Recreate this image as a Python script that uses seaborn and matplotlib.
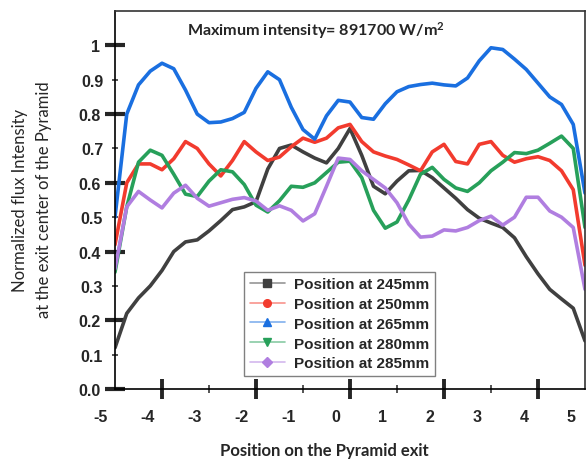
import numpy as np
import pandas as pd
import matplotlib
matplotlib.use("Agg")
import matplotlib.pyplot as plt
import seaborn as sns
from matplotlib.lines import Line2D

# ---------------- data ----------------
x_pos = [-5.0, -4.75, -4.5, -4.25, -4.0, -3.75, -3.5, -3.25, -3.0, -2.75,
         -2.5, -2.25, -2.0, -1.75, -1.5, -1.25, -1.0, -0.75, -0.5, -0.25,
         0.0, 0.25, 0.5, 0.75, 1.0, 1.25, 1.5, 1.75, 2.0, 2.25,
         2.5, 2.75, 3.0, 3.25, 3.5, 3.75, 4.0, 4.25, 4.5, 4.75, 5.0]

y_245 = [0.12, 0.22, 0.265, 0.30, 0.345, 0.40, 0.428, 0.434, 0.46, 0.49,
         0.522, 0.53, 0.545, 0.64, 0.70, 0.71, 0.69, 0.672, 0.658, 0.70,
         0.758, 0.68, 0.59, 0.568, 0.605, 0.635, 0.636, 0.615, 0.585, 0.555,
         0.522, 0.497, 0.483, 0.47, 0.44, 0.385, 0.335, 0.29, 0.262, 0.235, 0.14]

y_250 = [0.42, 0.60, 0.655, 0.655, 0.638, 0.67, 0.72, 0.70, 0.655, 0.62,
         0.665, 0.72, 0.69, 0.665, 0.675, 0.705, 0.73, 0.718, 0.73, 0.76,
         0.77, 0.72, 0.69, 0.678, 0.668, 0.652, 0.635, 0.69, 0.712, 0.662,
         0.655, 0.712, 0.72, 0.68, 0.66, 0.67, 0.676, 0.665, 0.635, 0.58, 0.36]

y_265 = [0.50, 0.80, 0.885, 0.925, 0.948, 0.932, 0.87, 0.80, 0.775, 0.777,
         0.787, 0.805, 0.875, 0.923, 0.90, 0.82, 0.755, 0.727, 0.795, 0.84,
         0.835, 0.79, 0.785, 0.83, 0.865, 0.88, 0.886, 0.89, 0.885, 0.882,
         0.905, 0.955, 0.993, 0.988, 0.96, 0.93, 0.89, 0.85, 0.828, 0.77, 0.57]

y_280 = [0.34, 0.53, 0.66, 0.695, 0.68, 0.625, 0.567, 0.56, 0.605, 0.638,
         0.632, 0.595, 0.535, 0.515, 0.548, 0.59, 0.587, 0.60, 0.63, 0.66,
         0.663, 0.615, 0.52, 0.468, 0.486, 0.55, 0.625, 0.645, 0.61, 0.585,
         0.575, 0.60, 0.635, 0.66, 0.688, 0.685, 0.695, 0.715, 0.736, 0.70, 0.47]

y_285 = [0.35, 0.53, 0.575, 0.55, 0.527, 0.57, 0.593, 0.555, 0.532, 0.542,
         0.552, 0.557, 0.547, 0.52, 0.533, 0.52, 0.489, 0.51, 0.59, 0.672,
         0.668, 0.635, 0.61, 0.585, 0.542, 0.48, 0.442, 0.445, 0.463, 0.46,
         0.47, 0.49, 0.503, 0.477, 0.50, 0.558, 0.558, 0.518, 0.50, 0.47, 0.29]

series_names = ["Position at 245mm", "Position at 250mm", "Position at 265mm",
                "Position at 280mm", "Position at 285mm"]
series_values = [y_245, y_250, y_265, y_280, y_285]
series_colors = ["#404040", "#f23b2e", "#1a6fe0", "#27a05a", "#b07ee0"]
series_markers = ["s", "o", "^", "v", "D"]

y_major = [0.0, 0.2, 0.4, 0.6, 0.8, 1.0]
y_major_labels = ["0.0", "0.2", "0.4", "0.6", "0.8", "1"]
y_minor = [0.1, 0.3, 0.5, 0.7, 0.9]
y_minor_labels = ["0.1", "0.3", "0.5", "0.7", "0.9"]
x_major = [-4, -2, 0, 2, 4]
x_minor = [-3, -1, 1, 3]
x_labels = [-5, -4, -3, -2, -1, 0, 1, 2, 3, 4, 5]

title_text = "Maximum intensity= 891700 W/m$^2$"
xlabel_text = "Position on the Pyramid exit"
ylabel_text = "Normalized flux Intensity\nat the exit center of the Pyramid"

# ---------------- figure ----------------
sns.set_style("ticks")
plt.rcParams["font.family"] = ["Liberation Sans", "DejaVu Sans"]
plt.rcParams["mathtext.default"] = "regular"

W, H = 588, 460
fig = plt.figure(figsize=(W / 100, H / 100), dpi=100)
ax = fig.add_axes([115 / W, 1 - 390 / H, 470 / W, 378 / H])

df = pd.concat([pd.DataFrame({"x": x_pos, "y": v, "series": n})
                for n, v in zip(series_names, series_values)], ignore_index=True)

sns.lineplot(data=df, x="x", y="y", hue="series", palette=series_colors,
             linewidth=2.6, legend=False, ax=ax, sort=False, estimator=None,
             solid_joinstyle="round", solid_capstyle="round")

ax.set_xlim(-5, 5)
ax.set_ylim(0, 1.1)
ax.set_xlabel("")
ax.set_ylabel("")

for s in ax.spines.values():
    s.set_linewidth(1.2)
    s.set_color("#333333")
ax.spines["left"].set_color("black")
ax.spines["bottom"].set_color("black")

# y ticks
ax.set_yticks(y_major)
ax.set_yticklabels(y_major_labels, fontsize=11.5, fontweight="bold")
ax.set_yticks(y_minor, minor=True)
ax.set_yticklabels(y_minor_labels, minor=True, fontsize=11.5, fontweight="bold")
ax.tick_params(axis="y", which="major", direction="inout", length=15, width=3, pad=3)
ax.tick_params(axis="y", which="minor", direction="inout", length=5, width=1.1, pad=6)

# x ticks (marks only), labels placed separately
ax.set_xticks(x_major)
ax.set_xticklabels([])
ax.set_xticks(x_minor, minor=True)
ax.set_xticklabels([], minor=True)
ax.tick_params(axis="x", which="major", direction="inout", length=14, width=2.8)
ax.tick_params(axis="x", which="minor", direction="inout", length=6, width=1.1)

xt = ax.get_xaxis_transform()
for v in x_labels:
    ax.text(v - 0.3, -0.073, str(v), transform=xt, ha="center", va="center",
            fontsize=11.5, fontweight="bold")

# texts
ax.text(0.428, 0.952, title_text, transform=ax.transAxes, ha="center", va="center",
        fontsize=11.6, fontweight="bold", family=["Lato", "DejaVu Sans"])
fig.text(324 / W, 1 - 451 / H, xlabel_text, ha="center", va="center",
         fontsize=12, fontweight="bold", family=["Lato", "DejaVu Sans"])
fig.text(32 / W, 1 - 200 / H, ylabel_text, ha="center", va="center", rotation=90,
         multialignment="center", fontsize=12, linespacing=1.65,
         family=["Lato", "DejaVu Sans"])

# legend
handles = [Line2D([0], [0], color=c, lw=0, marker=m, markersize=5.5,
                  markerfacecolor=c, markeredgecolor=c)
           for c, m in zip(series_colors, series_markers)]
line_handles = [Line2D([0], [0], color=c, alpha=0.55, lw=1.2) for c in series_colors]
leg = ax.legend([(lh, h) for lh, h in zip(line_handles, handles)], series_names,
                loc="upper left", bbox_to_anchor=(0.275, 0.31),
                prop={"weight": "bold", "size": 11, "family": "Liberation Sans"},
                frameon=True, fancybox=False, framealpha=1, edgecolor="#808080",
                handlelength=2.3, handletextpad=0.6, labelspacing=0.38,
                borderpad=0.35, borderaxespad=0)
leg.get_frame().set_linewidth(1.0)

fig.savefig("out.png", dpi=100)
